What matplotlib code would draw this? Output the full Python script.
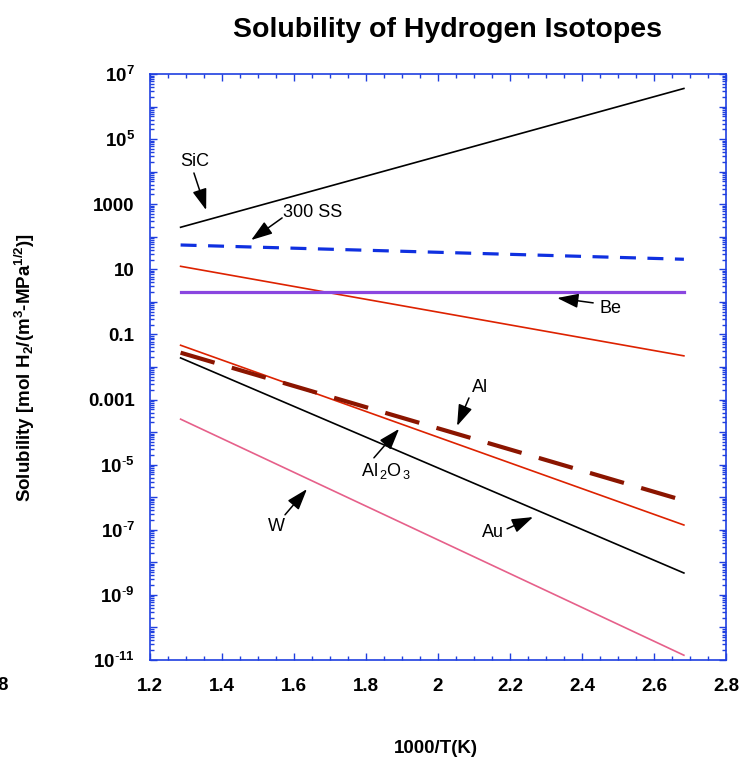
import numpy as np
import matplotlib.pyplot as plt
from matplotlib.ticker import LogLocator, MultipleLocator, FuncFormatter, NullFormatter

plt.rcParams['font.family'] = ['Liberation Sans', 'DejaVu Sans']
plt.rcParams['mathtext.fontset'] = 'custom'
plt.rcParams['mathtext.rm'] = 'Liberation Sans'
plt.rcParams['mathtext.bf'] = 'Liberation Sans:bold'
plt.rcParams['mathtext.default'] = 'regular'
plt.rcParams['axes.unicode_minus'] = False

# 1000/T range covered by every line
inv_T = [1.285, 2.683]

# solubility at the two ends, mol H2/(m3 MPa^1/2)
sic = [196, 3.6e6]
ss300 = [56, 20.4]
red_upper = [12.4, 0.022]
be = [2.06, 2.06]
al2o3 = [0.0466, 1.4e-7]
al = [0.0275, 7.9e-7]
au = [0.019, 4.7e-9]
w = [2.5e-4, 1.4e-11]

# labels: (text, text pos, arrow tail, arrow tip) in data coords (x, log10 y)
labels = [
    ("SiC", (1.325, 4.30), (1.322, 3.96), (1.356, 2.82)),
    ("300 SS", (1.653, 2.76), (1.567, 2.58), (1.481, 1.90)),
    ("Be", (2.478, -0.19), (2.431, -0.03), (2.331, 0.12)),
    ("Al", (2.117, -2.64), (2.086, -2.95), (2.053, -3.81)),
    (r"Al$_{\,2}$O$_{\,3}$", (1.855, -5.18), (1.822, -4.79), (1.892, -3.90)),
    ("W", (1.550, -6.91), (1.575, -6.54), (1.636, -5.75)),
    ("Au", (2.153, -7.07), (2.192, -6.97), (2.264, -6.61)),
]

blue_ax = '#1f3fe0'

fig = plt.figure(figsize=(7.4, 7.6), dpi=100)
ax = fig.add_axes([0.2027, 0.1316, 0.7784, 0.771])

ax.semilogy(inv_T, sic, color='k', lw=1.2)
ax.semilogy(inv_T, ss300, color='#0f30e0', lw=2.3, dashes=(5, 3.6))
ax.semilogy(inv_T, red_upper, color='#dd2200', lw=1.2)
ax.semilogy(inv_T, be, color='#8a46e0', lw=2.3)
ax.semilogy(inv_T, al2o3, color='#dd2200', lw=1.2)
ax.semilogy(inv_T, al, color='#8b1500', lw=3.0, dashes=(8.5, 4.3))
ax.semilogy(inv_T, au, color='k', lw=1.2)
ax.semilogy(inv_T, w, color='#e6608a', lw=1.2)

for txt, pos, tail, tip in labels:
    ax.text(pos[0], 10**pos[1], txt, fontsize=13, ha='center', va='center')
    ax.annotate('', xy=(tip[0], 10**tip[1]), xytext=(tail[0], 10**tail[1]),
                arrowprops=dict(arrowstyle='-|>,head_length=0.65,head_width=0.22',
                                color='k', lw=1.1, mutation_scale=20,
                                shrinkA=0, shrinkB=0))

ax.set_xlim(1.2, 2.8)
ax.set_ylim(1e-11, 1e7)

def ylab(v, pos):
    e = int(round(np.log10(v)))
    if e % 2 == 0:
        return ''
    names = {3: '1000', 1: '10', -1: '0.1', -3: '0.001'}
    if e in names:
        return names[e]
    if e < 0:
        return r'$10^{\text{-}%d}$' % (-e)
    return r'$10^{%d}$' % e

ax.yaxis.set_major_locator(LogLocator(base=10, numticks=40))
ax.yaxis.set_minor_locator(LogLocator(base=10, subs=np.arange(2, 10), numticks=40))
ax.yaxis.set_major_formatter(FuncFormatter(ylab))
ax.yaxis.set_minor_formatter(NullFormatter())
ax.xaxis.set_major_locator(MultipleLocator(0.2))
ax.xaxis.set_minor_locator(MultipleLocator(0.05))
ax.xaxis.set_major_formatter(FuncFormatter(lambda v, p: '%g' % round(v, 2)))

ax.tick_params(which='both', direction='in', top=True, right=True,
               color=blue_ax, labelsize=13.5, width=1)
ax.tick_params(which='major', length=5)
ax.tick_params(which='minor', length=3)
ax.tick_params(axis='x', pad=13)
ax.tick_params(axis='y', pad=11)
for lab in ax.get_xticklabels() + ax.get_yticklabels():
    lab.set_fontweight('bold')
for sp in ax.spines.values():
    sp.set_color(blue_ax)
    sp.set_linewidth(1.2)

ax.set_xlabel('1000/T(K)', fontsize=13.5, fontweight='bold')
ax.xaxis.set_label_coords(0.497, -0.137)
ax.set_ylabel(r'Solubility [mol H$_2$/(m$^3$-MPa$^{1/2}$)]', fontsize=13.5, fontweight='bold')
ax.yaxis.set_label_coords(-0.196, 0.5)

fig.text(0.6054, 0.951, 'Solubility of Hydrogen Isotopes', fontsize=20.5,
         fontweight='bold', ha='center', va='baseline')
fig.text(0.0037, 1 - 685 / 760, '8', fontsize=13.5, fontweight='bold',
         ha='center', va='center')

fig.savefig('out.png', dpi=100)
